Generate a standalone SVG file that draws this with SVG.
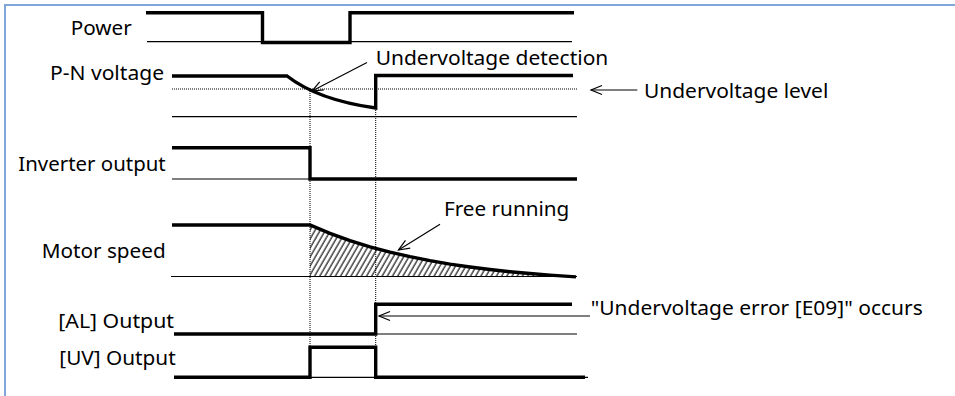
<svg xmlns="http://www.w3.org/2000/svg" width="955" height="396" viewBox="0 0 955 396">
<style>
  .lbl { font-family: "Noto Sans", "Liberation Sans", Arial, sans-serif; font-size: 19.5px; fill: #000; }
  .thick { fill: none; stroke: #000; stroke-width: 3.4; stroke-linejoin: miter; }
  .thin { fill: none; stroke: #000; stroke-width: 1.2; }
  .dot { fill: none; stroke: #000; stroke-width: 1; stroke-dasharray: 1 1; }
  .arr { fill: none; stroke: #000; stroke-width: 1.2; marker-end: url(#ah); }
</style>
<defs>
  <marker id="ah" markerUnits="userSpaceOnUse" markerWidth="13" markerHeight="11" refX="11" refY="5" orient="auto" overflow="visible">
    <path d="M0,0.5 L11,5 L0,9.5" fill="none" stroke="#000" stroke-width="1.2"/>
  </marker>
  <pattern id="hatch" patternUnits="userSpaceOnUse" width="4.5" height="4.5" patternTransform="rotate(30)">
    <line x1="1" y1="0" x2="1" y2="4.5" stroke="#000" stroke-width="1.1"/>
  </pattern>
  <clipPath id="mclip">
    <path d="M310,225 L330,233.4 L350,240.6 L370,246.8 L390,252.1 L410,256.7 L430,260.7 L450,264.1 L470,267 L490,269.5 L510,271.7 L530,273.5 L550,275.1 L576,276.9 L576,277 L310,277 Z"/>
  </clipPath>
</defs>
<rect x="0" y="0" width="955" height="396" fill="#fff"/>
<g id="frame">
  <line x1="5" y1="5" x2="955" y2="5" stroke="#7ea6d8" stroke-width="2"/>
  <line x1="5" y1="4" x2="5" y2="396" stroke="#7ea6d8" stroke-width="2"/>
</g>

<g id="power">
  <text class="lbl" x="70.7" y="35" textLength="61" lengthAdjust="spacingAndGlyphs">Power</text>
  <line class="thin" x1="147" y1="41.7" x2="572" y2="41.7"/>
  <path class="thick" d="M146,12.7 H262.5 V42.5 H350 V12.7 H574"/>
</g>

<g id="pn-voltage">
  <text class="lbl" x="50" y="79.5" textLength="114" lengthAdjust="spacingAndGlyphs">P-N voltage</text>
  <line class="dot" x1="172" y1="89" x2="577" y2="89"/>
  <line class="thin" x1="172" y1="116.7" x2="577" y2="116.7"/>
  <path class="thick" d="M172,76 H287 Q318,100 375.7,108 V75.5 H573"/>
</g>

<g id="inverter-output">
  <text class="lbl" x="18.3" y="171" textLength="147.4" lengthAdjust="spacingAndGlyphs">Inverter output</text>
  <line class="thin" x1="172" y1="179" x2="577" y2="179"/>
  <path class="thick" d="M172,147.7 H310 V179 H577"/>
</g>

<g id="motor-speed">
  <text class="lbl" x="41.7" y="258.3" textLength="124" lengthAdjust="spacingAndGlyphs">Motor speed</text>
  <rect x="310" y="220" width="268" height="58" fill="url(#hatch)" clip-path="url(#mclip)"/>
  <line class="thin" x1="171" y1="276.5" x2="577" y2="276.5"/>
  <path class="thick" d="M172,225 H310 L330,233.4 L350,240.6 L370,246.8 L390,252.1 L410,256.7 L430,260.7 L450,264.1 L470,267 L490,269.5 L510,271.7 L530,273.5 L550,275.1 L576,276.9" stroke-linejoin="round"/>
</g>

<g id="al-output">
  <text class="lbl" x="58.3" y="328.3" textLength="115.7" lengthAdjust="spacingAndGlyphs">[AL] Output</text>
  <line class="thin" x1="174" y1="334" x2="577" y2="334"/>
  <path class="thick" d="M174,334 H375.7 V304.3 H572"/>
</g>

<g id="uv-output">
  <text class="lbl" x="59.3" y="365" textLength="116.4" lengthAdjust="spacingAndGlyphs">[UV] Output</text>
  <line class="thin" x1="174" y1="377.3" x2="588" y2="377.3"/>
  <path class="thick" d="M174,377.3 H310 V347.3 H375.7 V377.3 H585"/>
</g>

<g id="annotations">
  <text class="lbl" x="375.7" y="65" textLength="232.6" lengthAdjust="spacingAndGlyphs">Undervoltage detection</text>
  <text class="lbl" x="644" y="97.7" textLength="184.3" lengthAdjust="spacingAndGlyphs">Undervoltage level</text>
  <text class="lbl" x="444" y="216" textLength="125.3" lengthAdjust="spacingAndGlyphs">Free running</text>
  <text class="lbl" x="590.7" y="315" textLength="332" lengthAdjust="spacingAndGlyphs">"Undervoltage error [E09]" occurs</text>
</g>

<g id="connectors">
  <line class="dot" x1="310" y1="89" x2="310" y2="347"/>
  <line class="dot" x1="375.7" y1="108" x2="375.7" y2="347"/>
  <line class="arr" x1="367" y1="62.5" x2="312" y2="91"/>
  <line class="arr" x1="637.3" y1="90" x2="591" y2="90"/>
  <line class="arr" x1="440" y1="224.3" x2="398.5" y2="250"/>
  <line class="arr" x1="590" y1="316" x2="379" y2="316"/>
</g>
</svg>
